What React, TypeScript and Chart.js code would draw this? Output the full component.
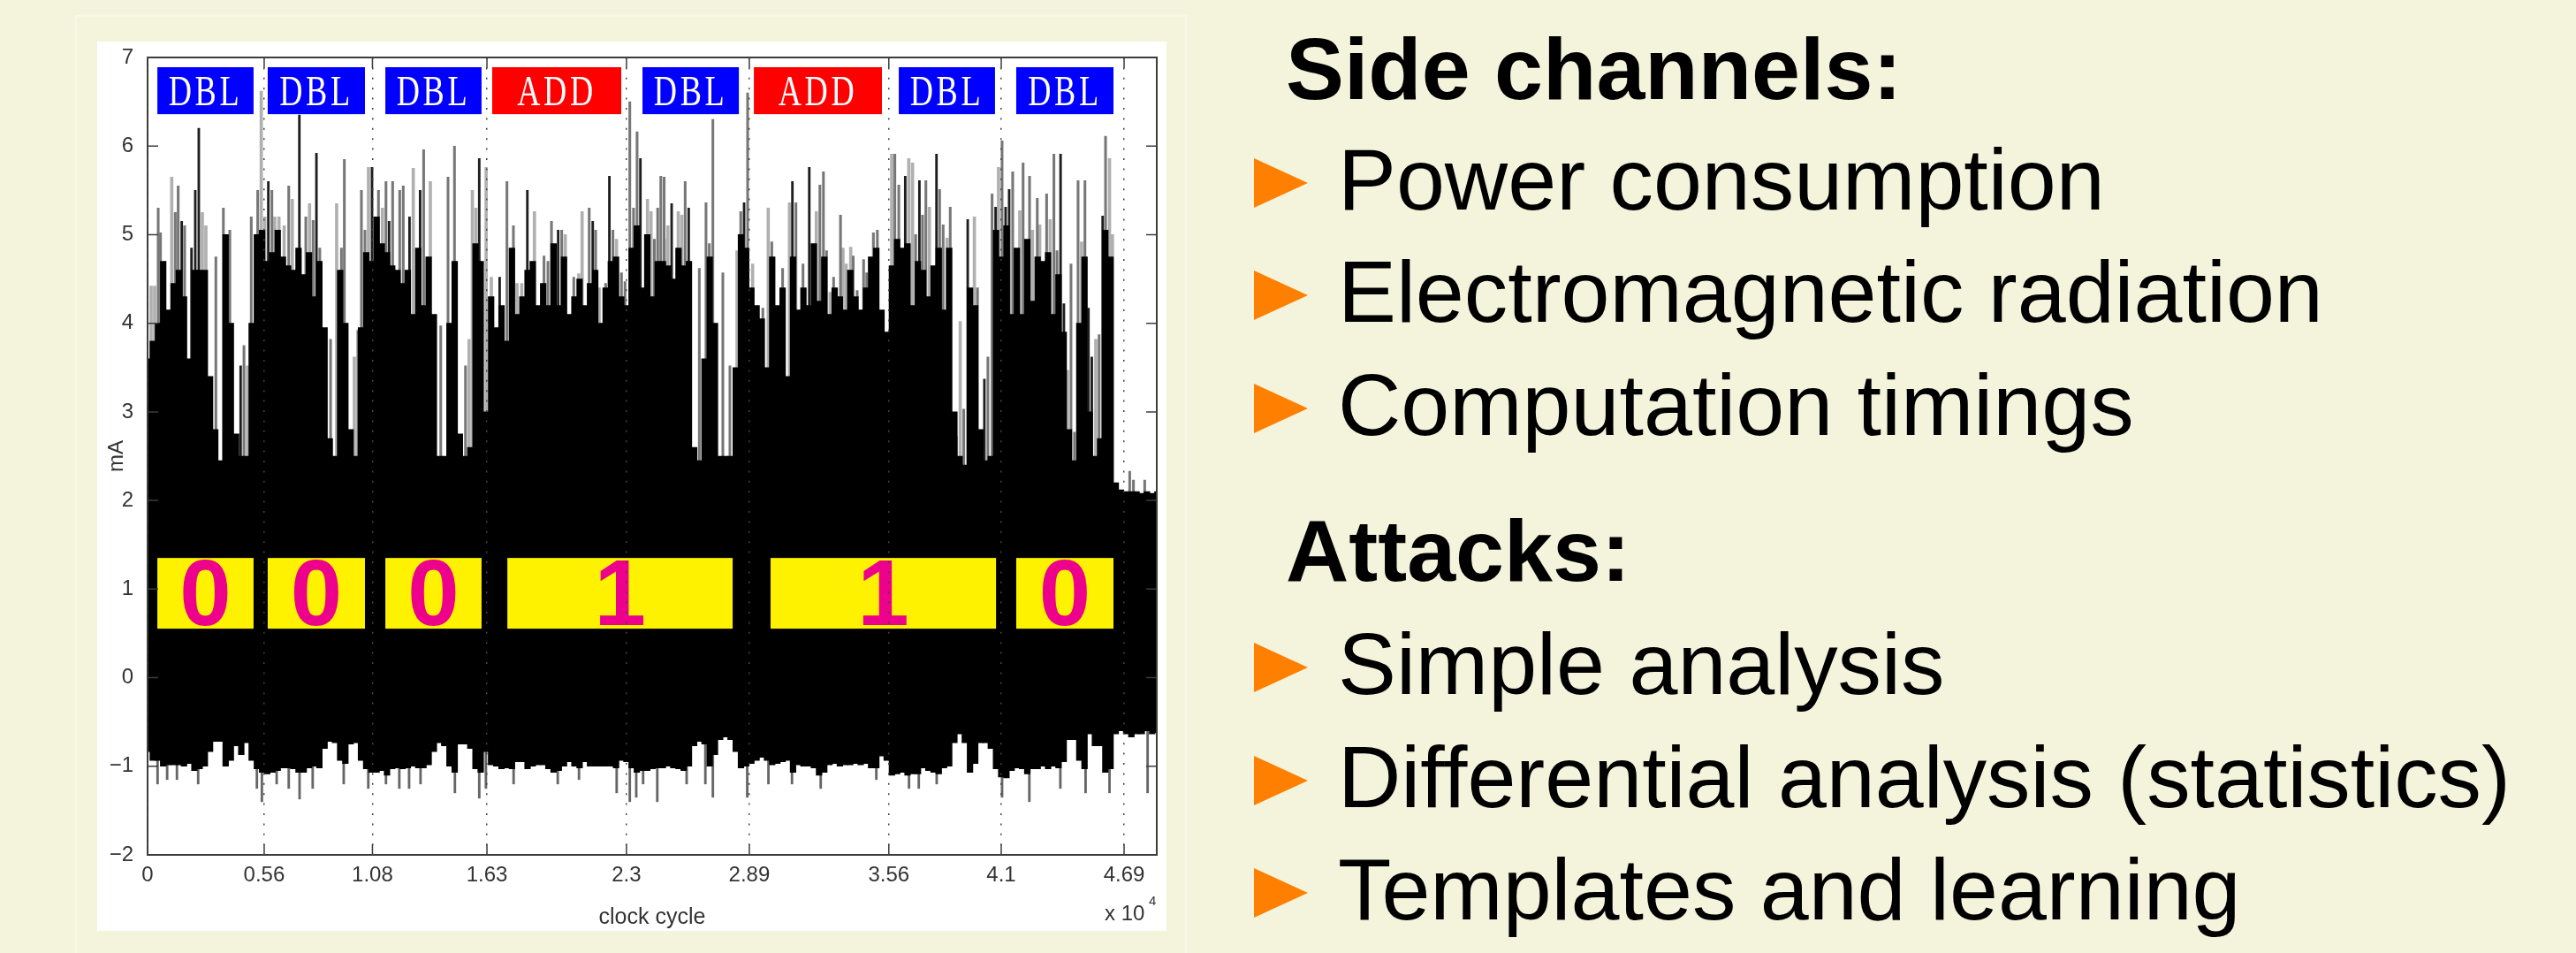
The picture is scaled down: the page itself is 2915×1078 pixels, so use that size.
import React, { useEffect, useRef } from "react";
import { Chart, registerables } from "chart.js";

Chart.register(...registerables);

const binStep = 0.025;
const coreTop = [
  3.6,3.8,4.0,4.7,4.15,4.45,4.6,4.3,3.6,4.6,
  4.6,4.6,3.4,2.8,2.45,5.0,4.0,2.75,2.5,2.5,
  4.0,5.0,5.05,4.7,4.8,5.05,4.75,4.65,4.6,4.85,
  4.55,4.8,4.3,4.7,3.95,2.7,2.5,4.6,4.0,2.8,
  2.5,3.95,4.8,4.7,5.2,4.9,4.8,4.65,4.6,4.45,
  4.6,4.1,4.85,4.2,4.75,4.1,2.5,2.5,4.0,4.7,
  2.75,2.5,2.6,4.9,4.7,3.0,4.3,3.95,4.2,3.8,
  4.85,4.1,4.3,4.6,4.7,4.2,4.45,4.2,4.9,4.2,
  4.75,4.1,4.3,4.5,4.2,4.45,4.6,4.0,4.4,4.7,
  4.75,4.3,4.2,4.85,5.1,4.4,5.0,4.3,4.7,4.7,
  4.65,4.5,4.85,4.65,4.7,2.6,2.45,3.6,4.75,4.0,
  2.5,2.5,2.5,3.5,5.0,4.85,4.4,4.2,4.05,3.5,
  4.75,4.2,4.4,3.4,4.75,4.15,4.4,4.2,4.9,4.25,
  4.75,4.1,4.4,4.3,4.15,4.6,4.3,4.15,4.4,4.75,
  4.85,4.15,3.9,4.65,4.95,4.85,4.9,4.2,4.7,4.6,
  4.3,4.65,4.85,4.15,4.85,3.0,2.5,2.4,4.4,4.2,
  2.8,2.45,2.5,5.05,4.75,5.1,4.1,4.85,4.1,4.95,
  4.25,4.75,4.7,4.8,4.1,4.55,3.9,2.8,2.45,4.0,
  4.75,3.0,2.5,2.7,5.05,4.75,2.2,2.12,2.1,2.1,
  2.1,2.08,2.1,2.08,2.1,
];
const coreLow = [
  -.835,-.935,-.935,-1.0,-.985,-.985,-.985,-1.0,-.97,-1.05,
  -1.03,-1.0,-.835,-.72,-.72,-1.0,-.935,-.77,-.87,-.735,
  -.935,-1.03,-1.07,-1.085,-1.07,-1.05,-1.02,-1.02,-1.03,-1.07,
  -1.07,-1.02,-1.0,-1.02,-.8,-.72,-.735,-.935,-.97,-.75,
  -.735,-.935,-1.03,-1.07,-1.07,-1.05,-1.1,-1.03,-1.02,-1.03,
  -1.02,-1.0,-1.02,-1.02,-.985,-.835,-.735,-.77,-1.0,-1.07,
  -.75,-.75,-.8,-1.03,-1.07,-.835,-.985,-1.0,-1.03,-1.02,
  -1.03,-.95,-.95,-1.03,-1.0,-.985,-.985,-1.03,-1.07,-1.05,
  -1.0,-.95,-1.0,-1.02,-.95,-1.0,-1.0,-1.0,-1.0,-1.0,
  -1.02,-.935,-.95,-1.02,-1.07,-1.05,-1.05,-1.03,-1.02,-1.02,
  -1.0,-1.02,-1.03,-1.05,-1.0,-.77,-.72,-.75,-1.0,-.87,
  -.7,-.67,-.7,-.835,-1.02,-1.0,-.97,-.935,-.9,-.935,
  -.985,-.97,-.95,-.935,-1.07,-.985,-1.0,-1.0,-1.02,-1.1,
  -1.07,-.985,-.97,-1.0,-.985,-.985,-.97,-.985,-.97,-1.02,
  -1.02,-.885,-.935,-1.1,-1.085,-1.07,-1.1,-1.085,-1.085,-1.02,
  -1.05,-1.07,-1.085,-1.02,-1.0,-.735,-.635,-.735,-1.07,-.97,
  -.735,-.735,-.8,-1.03,-1.12,-1.13,-1.05,-1.02,-1.03,-1.085,
  -1.03,-1.03,-1.0,-1.03,-1.0,-1.02,-.95,-.7,-.7,-.935,
  -1.03,-.635,-.77,-.77,-1.07,-1.03,-.635,-.6,-.635,-.67,
  -.635,-.635,-.6,-.635,-.62,
];
const darkSpikes = [
  [.164,5.15],[.211,4.85],[.229,5.5],[.246,6.2],[.447,3.52],[.58,5.6],[.729,6.35],[.811,5.92],[1.078,5.76],[1.16,5.15],[1.258,5.2],
  [1.309,5.5],[1.593,5.86],[1.691,4.52],[1.824,5.5],[1.972,5.05],[2.138,5.15],[2.218,5.66],[2.367,5.86],[2.517,5.35],[2.599,5.3],
  [2.865,5.36],[3.097,5.6],[3.178,5.76],[3.639,5.66],[3.707,5.61],[3.789,5.91],[3.939,5.17],[4.019,3.37],[4.073,5.31],[4.121,5.31],
  [4.138,5.51],[4.385,5.91],[4.401,4.22],[4.519,4.17],[4.535,3.62],[4.587,5.21],
];
const midSpikes = [
  [.051,5.3],[.062,5.02],[.133,5.25],[.147,5.55],[.178,5.1],[.328,4.75],[.364,5.3],[.395,5.05],[.463,3.75],[.498,5.2],[.529,5.5],
  [.597,5.5],[.678,5.55],[.76,5.2],[.795,5.16],[.827,4.85],[.879,3.82],[.931,4.85],[.945,5.85],[1.01,3.92],[1.027,5.5],[1.044,5.05],
  [1.109,5.5],[1.145,5.6],[1.177,5.6],[1.211,5.5],[1.228,5.55],[1.326,5.96],[1.408,3.97],[1.443,5.65],[1.474,6.0],[1.527,3.52],
  [1.726,5.6],[1.757,5.1],[1.904,4.76],[1.923,4.7],[1.94,5.15],[1.989,5.05],[2.047,4.52],[2.121,5.3],[2.152,5.05],[2.2,4.45],
  [2.235,5.05],[2.276,4.57],[2.293,4.47],[2.316,6.5],[2.334,5.3],[2.351,6.16],[2.434,4.95],[2.45,5.3],[2.465,5.66],[2.481,5.65],
  [2.582,5.6],[2.65,4.62],[2.682,5.36],[2.698,4.9],[2.715,6.3],[2.763,4.57],[2.797,3.52],[2.849,5.26],[2.882,6.6],[2.955,4.17],
  [2.998,4.92],[3.05,4.62],[3.114,5.36],[3.148,4.67],[3.229,5.56],[3.246,5.71],[3.261,4.82],[3.295,4.52],[3.328,5.22],[3.389,4.76],
  [3.408,4.37],[3.439,4.72],[3.454,4.57],[3.486,5.02],[3.505,5.05],[3.589,5.91],[3.608,5.56],[3.689,5.0],[3.722,5.22],[3.738,5.61],
  [3.804,5.51],[3.821,5.11],[3.855,5.31],[3.884,2.72],[3.92,3.03],[3.986,4.4],[4.036,3.62],[4.056,5.46],[4.104,6.06],[4.155,5.71],
  [4.205,5.81],[4.236,5.66],[4.273,5.41],[4.318,5.46],[4.353,5.91],[4.368,4.82],[4.435,4.67],[4.452,2.77],[4.469,5.61],[4.502,5.61],
  [4.57,3.87],[4.601,6.11],[4.717,2.33],[4.735,2.23],[4.789,2.23],
];
const lightSpikes = [
  [.017,4.42],[.034,4.42],[.116,5.65],[.263,5.25],[.28,5.1],[.48,3.52],[.546,6.62],[.563,5.2],[.611,5.2],[.631,5.2],[.656,5.1],
  [.695,5.4],[.778,5.35],[.908,5.35],[.993,3.62],[1.061,5.76],[1.128,5.3],[1.276,5.75],[1.358,5.6],[1.544,3.82],[1.56,5.5],[1.577,5.3],
  [1.626,5.76],[1.651,4.52],[1.774,4.45],[1.797,4.45],[1.858,5.26],[1.955,4.85],[2.006,5.0],[2.071,4.56],[2.087,5.26],[2.169,4.4],
  [2.252,4.95],[2.401,5.4],[2.418,5.26],[2.482,4.95],[2.499,5.1],[2.549,5.26],[2.566,5.22],[2.831,4.82],[2.906,4.67],[2.981,5.3],
  [3.083,5.36],[3.212,5.26],[3.278,4.35],[3.34,4.85],[3.355,4.67],[3.377,4.86],[3.574,5.91],[3.656,5.86],[3.674,5.81],[3.755,5.31],
  [3.84,4.96],[3.903,4.02],[3.971,5.2],[4.087,5.76],[4.189,5.27],[4.25,5.05],[4.285,5.11],[4.335,5.17],[4.418,3.47],[4.486,4.92],
  [4.554,3.82],[4.62,5.86],[4.634,5.0],
];
const lowerSpikes = [
  [.048,-1.2],[.094,-1.15],[.141,-1.15],[.243,-1.2],[.525,-1.25],[.549,-1.4],[.62,-1.2],[.678,-1.25],[.73,-1.37],[.793,-1.25],
  [.942,-1.2],[1.06,-1.25],[1.145,-1.2],[1.209,-1.25],[1.256,-1.25],[1.311,-1.2],[1.476,-1.3],[1.593,-1.36],[1.625,-1.25],[1.758,-1.2],
  [1.97,-1.2],[2.072,-1.15],[2.253,-1.3],[2.316,-1.4],[2.347,-1.35],[2.38,-1.2],[2.448,-1.4],[2.589,-1.2],[2.679,-1.2],[2.715,-1.35],
  [2.88,-1.35],[2.982,-1.2],[3.095,-1.2],[3.233,-1.25],[3.5,-1.15],[3.657,-1.25],[3.704,-1.25],[3.79,-1.2],[4.104,-1.35],[4.235,-1.4],
  [4.384,-1.25],[4.505,-1.3],[4.62,-1.3],[4.803,-1.3],
];

const xTickValues = [0, 0.56, 1.08, 1.63, 2.3, 2.89, 3.56, 4.1, 4.69];
const yTickValues = [-2, -1, 0, 1, 2, 3, 4, 5, 6, 7];

const opLabels = ["DBL", "DBL", "DBL", "ADD", "DBL", "ADD", "DBL", "DBL"];
const opStart = [0.047, 0.577, 1.142, 1.655, 2.377, 2.912, 3.608, 4.172];
const opEnd = [0.509, 1.044, 1.604, 2.275, 2.84, 3.527, 4.07, 4.639];
const opYRange = [6.36, 6.89];

const bitLabels = ["0", "0", "0", "1", "1", "0"];
const bitStart = [0.047, 0.577, 1.142, 1.728, 2.992, 4.172];
const bitEnd = [0.509, 1.044, 1.604, 2.81, 4.075, 4.639];
const bitYRange = [0.553, 1.351];

const headingA = "Side channels:";
const listA = ["Power consumption", "Electromagnetic radiation", "Computation timings"];
const headingB = "Attacks:";
const listB = ["Simple analysis", "Differential analysis (statistics)", "Templates and learning"];

const sans = '"Liberation Sans", Arial, sans-serif';

const overlay = {
  id: "overlay",
  afterDatasetsDraw(chart: any) {
    const { ctx, scales, chartArea: a } = chart;
    const xs = scales.x;
    const ys = scales.y;
    ctx.save();
    opLabels.forEach((label, i) => {
      const x0 = xs.getPixelForValue(opStart[i]);
      const x1 = xs.getPixelForValue(opEnd[i]);
      const y0 = ys.getPixelForValue(opYRange[1]);
      const y1 = ys.getPixelForValue(opYRange[0]);
      ctx.fillStyle = label === "ADD" ? "#ff0000" : "#0000ff";
      ctx.fillRect(x0, y0, x1 - x0, y1 - y0);
      ctx.save();
      ctx.translate((x0 + x1) / 2, (y0 + y1) / 2 + 16);
      ctx.scale(0.74, 1);
      ctx.fillStyle = "#ffffff";
      ctx.font = '49px "Liberation Serif", serif';
      (ctx as any).letterSpacing = "5px";
      ctx.textAlign = "center";
      ctx.textBaseline = "alphabetic";
      ctx.fillText(label, 0, 0);
      (ctx as any).letterSpacing = "0px";
      ctx.restore();
    });
    bitLabels.forEach((label, i) => {
      const x0 = xs.getPixelForValue(bitStart[i]);
      const x1 = xs.getPixelForValue(bitEnd[i]);
      const y0 = ys.getPixelForValue(bitYRange[1]);
      const y1 = ys.getPixelForValue(bitYRange[0]);
      ctx.fillStyle = "#fff200";
      ctx.fillRect(x0, y0, x1 - x0, y1 - y0);
      ctx.fillStyle = "#ec008c";
      ctx.font = `bold 105px ${sans}`;
      ctx.textAlign = "center";
      ctx.textBaseline = "alphabetic";
      ctx.fillText(label, (x0 + x1) / 2, (y0 + y1) / 2 + 36);
    });
    ctx.strokeStyle = "#3c3c3c";
    ctx.lineWidth = 2;
    ctx.strokeRect(a.left, a.top, a.right - a.left, a.bottom - a.top);
    ctx.lineWidth = 1.5;
    ctx.beginPath();
    xTickValues.forEach((v) => {
      const px = xs.getPixelForValue(v);
      ctx.moveTo(px, a.bottom);
      ctx.lineTo(px, a.bottom - 12);
      ctx.moveTo(px, a.top);
      ctx.lineTo(px, a.top + 12);
    });
    yTickValues.forEach((v) => {
      const py = ys.getPixelForValue(v);
      ctx.moveTo(a.left, py);
      ctx.lineTo(a.left + 12, py);
      ctx.moveTo(a.right, py);
      ctx.lineTo(a.right - 12, py);
    });
    ctx.stroke();
    ctx.fillStyle = "#333333";
    ctx.textAlign = "left";
    ctx.textBaseline = "alphabetic";
    ctx.font = `24px ${sans}`;
    ctx.fillText("x 10", a.right - 59, a.bottom + 74);
    ctx.font = `15px ${sans}`;
    ctx.fillText("4", a.right - 9, a.bottom + 57);
    ctx.restore();
  },
};

const TEXT_X = 1514;
const Line = ({ text, base, x, bold }: { text: string; base: number; x: number; bold?: boolean }) => (
  <div
    style={{
      position: "absolute",
      left: x,
      top: base - 84,
      font: `${bold ? "bold " : ""}98.8px/100px ${sans}`,
      color: "#000",
      whiteSpace: "nowrap",
    }}
  >
    {text}
  </div>
);
const Arrow = ({ base }: { base: number }) => (
  <div
    style={{
      position: "absolute",
      left: 1419,
      top: base - 58,
      width: 0,
      height: 0,
      borderTop: "28px solid transparent",
      borderBottom: "28px solid transparent",
      borderLeft: "61px solid #ff8000",
    }}
  />
);

export default function App() {
  const ref = useRef<HTMLCanvasElement>(null);
  useEffect(() => {
    document.body.style.margin = "0";
    document.body.style.background = "#f4f4dc";
    const toBars = (list: number[][], from: number) => list.map(([x, y]) => ({ x, y: [from, y] }));
    const spikeSet = (data: any[], color: string, order: number, w: number) => ({
      data,
      backgroundColor: color,
      barThickness: w,
      grouped: false,
      order,
    });
    const chart = new Chart(ref.current!, {
      type: "bar",
      data: {
        datasets: [
          spikeSet(coreTop.map((t, i) => ({ x: i * binStep, y: [coreLow[i], t] })), "#000000", 0, 6.5),
          spikeSet(toBars(darkSpikes, 0), "#1e1e1e", 1, 2.2),
          spikeSet(toBars(midSpikes, 0), "#777777", 2, 2.4),
          spikeSet(toBars(lightSpikes, 0), "#b0b0b0", 3, 3),
          spikeSet(toBars(lowerSpikes, 0), "#666666", 4, 2.2),
        ] as any,
      },
      options: {
        animation: false,
        responsive: false,
        layout: { padding: { left: 0, top: 18, right: 11, bottom: 0 } },
        plugins: { legend: { display: false }, tooltip: { enabled: false } },
        scales: {
          x: {
            type: "linear",
            min: 0,
            max: 4.847,
            offset: false,
            afterBuildTicks: (s: any) => {
              s.ticks = xTickValues.map((value) => ({ value }));
            },
            afterFit: (s: any) => {
              s.height = 86;
              s.paddingLeft = 0;
              s.paddingRight = 0;
            },
            grid: { color: "#444444", lineWidth: 1.5, drawTicks: false, z: 1, offset: false },
            border: { display: false, dash: [2, 9.4] },
            ticks: {
              autoSkip: false,
              maxRotation: 0,
              padding: 9,
              color: "#333333",
              font: { family: "Liberation Sans", size: 24 },
              callback: (v: any) => String(v),
            },
            title: {
              display: true,
              text: "clock cycle",
              color: "#333333",
              font: { family: "Liberation Sans", size: 25 },
              padding: { top: 14, bottom: 0 },
            },
          },
          y: {
            type: "linear",
            min: -2,
            max: 7,
            afterBuildTicks: (s: any) => {
              s.ticks = yTickValues.map((value) => ({ value }));
            },
            afterFit: (s: any) => {
              s.width = 57;
              s.paddingTop = 0;
              s.paddingBottom = 0;
            },
            grid: { display: false },
            border: { display: false },
            ticks: {
              padding: 8,
              color: "#333333",
              font: { family: "Liberation Sans", size: 24 },
              callback: (v: any) => String(v).replace("-", "\u2212"),
            },
            title: {
              display: true,
              text: "mA",
              color: "#333333",
              font: { family: "Liberation Sans", size: 24 },
              padding: { top: 8, bottom: 0 },
            },
          },
        },
      },
      plugins: [overlay],
    } as any);
    return () => chart.destroy();
  }, []);

  return (
    <div style={{ position: "absolute", left: 0, top: 0, width: 2915, height: 1078, background: "#f4f4dc", overflow: "hidden" }}>
      <div
        style={{
          position: "absolute",
          left: 85,
          top: 17,
          width: 1258,
          height: 1100,
          border: "2px solid #f8f8e8",
          boxSizing: "border-box",
        }}
      />
      <div style={{ position: "absolute", left: 110, top: 47, width: 1210, height: 1006, background: "#ffffff" }}>
        <canvas ref={ref} width={1210} height={1006} style={{ display: "block" }} />
      </div>
      <Line text={headingA} base={112} x={1455} bold />
      {listA.map((t, i) => (
        <React.Fragment key={t}>
          <Arrow base={237 + i * 127.4} />
          <Line text={t} base={237 + i * 127.4} x={TEXT_X} />
        </React.Fragment>
      ))}
      <Line text={headingB} base={657} x={1455} bold />
      {listB.map((t, i) => (
        <React.Fragment key={t}>
          <Arrow base={785 + i * 127.5} />
          <Line text={t} base={785 + i * 127.5} x={TEXT_X} />
        </React.Fragment>
      ))}
    </div>
  );
}
